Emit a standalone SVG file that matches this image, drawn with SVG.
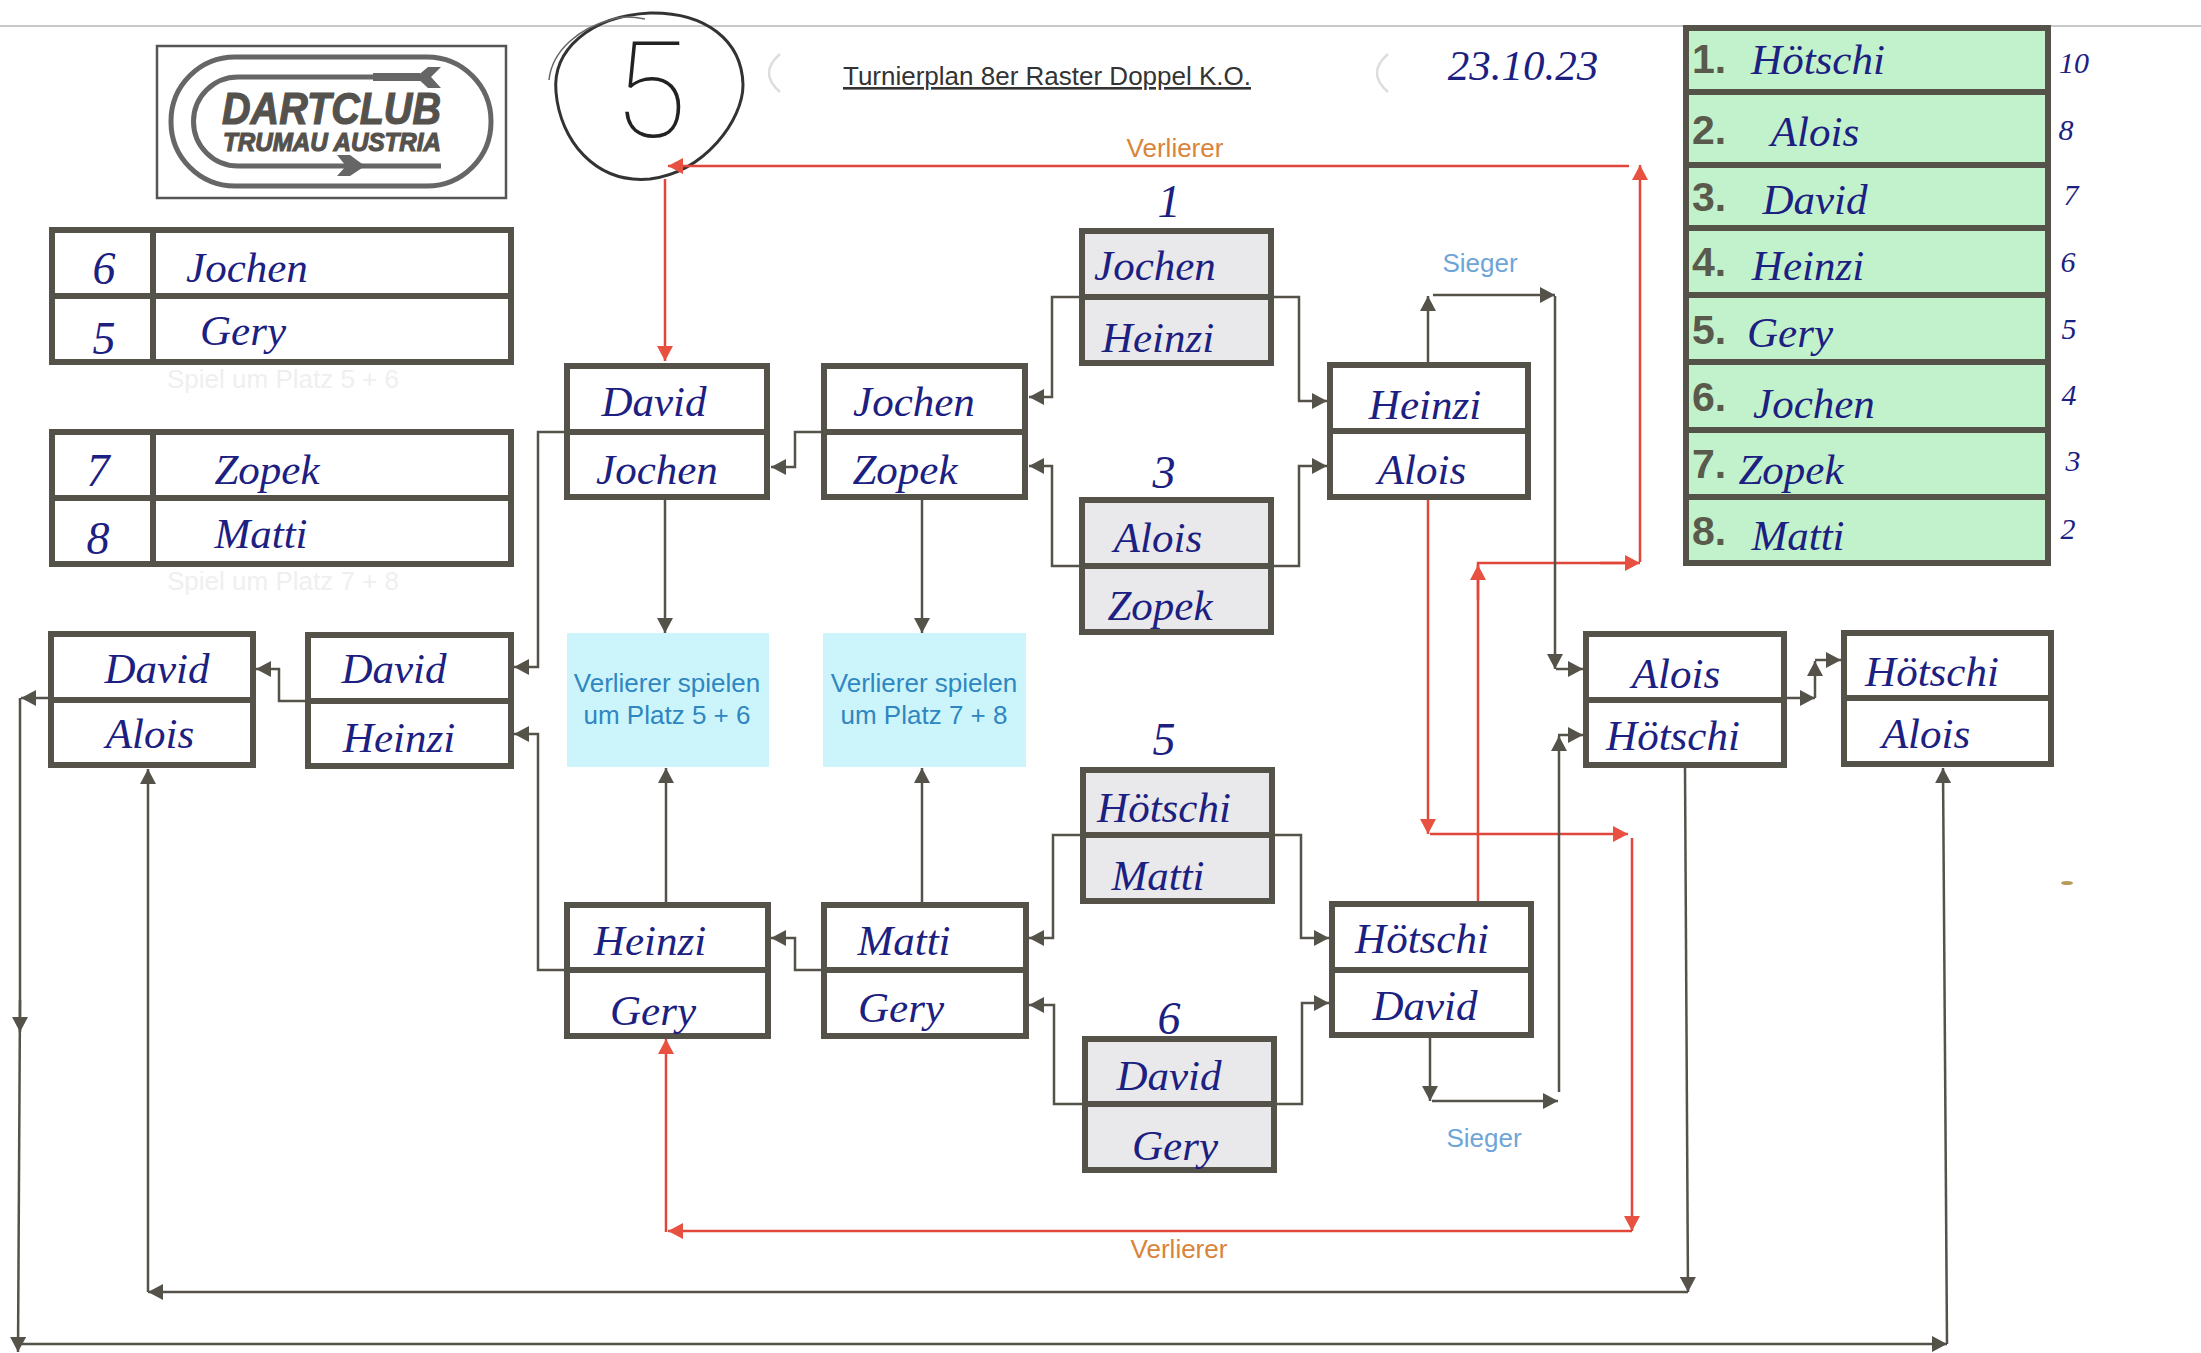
<svg xmlns="http://www.w3.org/2000/svg" width="2201" height="1353" viewBox="0 0 2201 1353">
<style>
.box{fill:#fff;stroke:#55524a;stroke-width:6}
.game{fill:#e9e9eb}
.rank{fill:#c2f2cb}
.div{stroke:#55524a;stroke-width:6;fill:none}
.g{stroke:#55524a;stroke-width:2.5;fill:none}
.r{stroke:#e0473a;stroke-width:2.5;fill:none}
.ag{marker-end:url(#ag)}
.ar{marker-end:url(#ar)}
.h{font-family:"Liberation Serif",serif;font-style:italic;font-size:43px;fill:#1c2080;text-anchor:middle}
.n{font-size:46px}
.p{font-size:30px}
.s{font-family:"Liberation Sans",Arial,sans-serif;font-size:26px;text-anchor:middle}
.blue{fill:#2f86c0}
.sieger{fill:#6ea5d8}
.verl{fill:#d9843a}
.ghost{fill:#efefef;font-size:26px}
.num{font-family:"Liberation Sans",Arial,sans-serif;font-weight:bold;font-size:41px;fill:#5a5a4c}
.logo{font-family:"Liberation Sans",Arial,sans-serif;font-weight:bold;font-style:italic;fill:#55524e;stroke:#55524e;stroke-width:1.2}
.ls{fill:none;stroke:#666;stroke-width:5}
</style>
<defs>
<marker id="ag" markerUnits="userSpaceOnUse" markerWidth="16" markerHeight="16" refX="15" refY="8" orient="auto"><path d="M0 0L15 8L0 16Z" fill="#55524a"/></marker>
<marker id="ar" markerUnits="userSpaceOnUse" markerWidth="16" markerHeight="16" refX="15" refY="8" orient="auto"><path d="M0 0L15 8L0 16Z" fill="#e8503f"/></marker>
</defs>
<rect width="2201" height="1353" fill="#fff"/>
<path d="M0 26H2201" stroke="#c8c8c8" stroke-width="2"/>

<g id="logo">
<rect x="157" y="46" width="349" height="152" fill="none" stroke="#555" stroke-width="2.5"/>
<rect x="171" y="57" width="320" height="129" rx="64" class="ls"/>
<path d="M416 77H238A44 44 0 0 0 238 166H441" class="ls"/>
<path d="M373 77H420" stroke="#666" stroke-width="8" fill="none"/>
<path d="M416 77L428 67H441L431 77L441 88H428Z" fill="#666"/>
<path d="M337 155H350L365 166L350 176H337L346 166Z" fill="#666"/>
<text x="222" y="124" class="logo" font-size="44" textLength="219" lengthAdjust="spacingAndGlyphs">DARTCLUB</text>
<text x="223" y="151" class="logo" font-size="26" textLength="218" lengthAdjust="spacingAndGlyphs">TRUMAU AUSTRIA</text>
</g>

<g id="circle-mark">
<path d="M556 92C552 50 590 16 650 13C705 12 742 40 743 85C743 120 705 172 650 179C595 184 560 140 556 92Z" fill="none" stroke="#333" stroke-width="3"/>
<path d="M549 80C552 50 580 28 610 20C620 16 630 16 645 19" fill="none" stroke="#666" stroke-width="1.5"/>
<text x="650" y="137" font-family="Roboto, sans-serif" font-weight="100" font-size="134" fill="#222" text-anchor="middle">5</text>
</g>

<path d="M780 54Q758 73 780 92" fill="none" stroke="#ddd" stroke-width="2.5"/>
<path d="M1388 54Q1366 73 1388 92" fill="none" stroke="#ddd" stroke-width="2.5"/>
<ellipse cx="2067" cy="883" rx="6" ry="2" fill="#b59a5a"/>

<text id="title" x="1047" y="85" class="s" text-decoration="underline" style="fill:#333">Turnierplan 8er Raster Doppel K.O.</text>
<text id="date" x="1523" y="80" class="h">23.10.23</text>

<g id="connectors">
<path class="r ar" d="M1629 166H668"/>
<path class="r ar" d="M665 179V361"/>
<path class="r" d="M1478 902V563H1625"/>
<path class="r ar" d="M1478 600V565"/>
<path class="r ar" d="M1600 563H1640"/>
<path class="r ar" d="M1640 562V165"/>
<path class="r ar" d="M1428 500V834"/>
<path class="r ar" d="M1430 834H1628"/>
<path class="r ar" d="M1632 838V1231"/>
<path class="r ar" d="M1632 1231H668"/>
<path class="r ar" d="M666 1232V1039"/>

<path class="g ag" d="M1079 297H1052V397H1029"/>
<path class="g ag" d="M1079 566H1052V466H1029"/>
<path class="g ag" d="M1274 297H1299V401H1327"/>
<path class="g ag" d="M1274 566H1299V466H1327"/>
<path class="g ag" d="M1080 835H1053V938H1029"/>
<path class="g ag" d="M1082 1104H1054V1005H1029"/>
<path class="g ag" d="M1275 835H1301V938H1329"/>
<path class="g ag" d="M1277 1104H1302V1003H1329"/>
<path class="g ag" d="M821 432H795V467H771"/>
<path class="g ag" d="M821 970H795V938H771"/>
<path class="g ag" d="M564 432H538V667H514"/>
<path class="g ag" d="M564 970H538V734H514"/>
<path class="g ag" d="M305 701H279V669H256"/>
<path class="g ag" d="M665 500V633"/>
<path class="g ag" d="M922 500V633"/>
<path class="g ag" d="M666 902V768"/>
<path class="g ag" d="M922 902V768"/>
<path class="g ag" d="M1428 362V296"/>
<path class="g ag" d="M1433 295H1555"/>
<path class="g ag" d="M1555 296V669"/>
<path class="g ag" d="M1556 669H1583"/>
<path class="g ag" d="M1559 1092V736"/>
<path class="g ag" d="M1558 735H1583"/>
<path class="g ag" d="M1430 1038V1101"/>
<path class="g ag" d="M1432 1101H1558"/>
<path class="g ag" d="M1787 698H1815"/>
<path class="g ag" d="M1815 698V661"/>
<path class="g ag" d="M1815 660H1841"/>
<path class="g ag" d="M1685 768L1688 1292"/>
<path class="g ag" d="M1688 1292H148"/>
<path class="g ag" d="M148 1292V769"/>
<path class="g ag" d="M48 698H21"/>
<path class="g ag" d="M20 698V1032"/>
<path class="g ag" d="M20 1000L18 1352"/>
<path class="g ag" d="M18 1344H1947"/>
<path class="g ag" d="M1947 1344L1943 768"/>
</g>

<g id="table-5-6">
<rect class="box" x="52" y="230" width="459" height="132"/><path class="div" d="M52 296H511M153 230V362"/>
<text x="104" y="284" class="h n">6</text><text x="247" y="282" class="h">Jochen</text>
<text x="104" y="354" class="h n">5</text><text x="243" y="345" class="h">Gery</text>
<text x="283" y="388" class="s ghost">Spiel um Platz 5 + 6</text>
</g>
<g id="table-7-8">
<rect class="box" x="52" y="432" width="459" height="132"/><path class="div" d="M52 498H511M153 432V564"/>
<text x="98" y="486" class="h n">7</text><text x="267" y="484" class="h">Zopek</text>
<text x="98" y="554" class="h n">8</text><text x="261" y="548" class="h">Matti</text>
<text x="283" y="590" class="s ghost">Spiel um Platz 7 + 8</text>
</g>

<g id="n-david-jochen"><rect class="box" x="567" y="366" width="200" height="131"/><path class="div" d="M567 432H767"/><text x="654" y="416" class="h">David</text><text x="657" y="484" class="h">Jochen</text></g>
<g id="n-jochen-zopek"><rect class="box" x="824" y="366" width="201" height="131"/><path class="div" d="M824 432H1025"/><text x="914" y="416" class="h">Jochen</text><text x="905" y="484" class="h">Zopek</text></g>
<g id="n-game1"><text x="1169" y="217" class="h n">1</text><rect class="box game" x="1082" y="231" width="189" height="132"/><path class="div" d="M1082 297H1271"/><text x="1155" y="280" class="h">Jochen</text><text x="1158" y="352" class="h">Heinzi</text></g>
<g id="n-game3"><text x="1164" y="488" class="h n">3</text><rect class="box game" x="1082" y="500" width="189" height="132"/><path class="div" d="M1082 566H1271"/><text x="1158" y="552" class="h">Alois</text><text x="1160" y="620" class="h">Zopek</text></g>
<g id="n-heinzi-alois"><rect class="box" x="1330" y="365" width="198" height="132"/><path class="div" d="M1330 431H1528"/><text x="1425" y="419" class="h">Heinzi</text><text x="1422" y="484" class="h">Alois</text></g>

<g id="n-platz56"><rect x="567" y="633" width="202" height="134" fill="#ccf5fb"/><text x="667" y="692" class="s blue">Verlierer spielen</text><text x="667" y="724" class="s blue">um Platz 5 + 6</text></g>
<g id="n-platz78"><rect x="823" y="633" width="203" height="134" fill="#ccf5fb"/><text x="924" y="692" class="s blue">Verlierer spielen</text><text x="924" y="724" class="s blue">um Platz 7 + 8</text></g>

<g id="n-heinzi-gery"><rect class="box" x="567" y="905" width="201" height="131"/><path class="div" d="M567 970H768"/><text x="650" y="955" class="h">Heinzi</text><text x="653" y="1025" class="h">Gery</text></g>
<g id="n-matti-gery"><rect class="box" x="824" y="905" width="202" height="131"/><path class="div" d="M824 970H1026"/><text x="904" y="955" class="h">Matti</text><text x="901" y="1022" class="h">Gery</text></g>
<g id="n-game5"><text x="1164" y="755" class="h n">5</text><rect class="box game" x="1083" y="770" width="189" height="131"/><path class="div" d="M1083 835H1272"/><text x="1164" y="822" class="h">Hötschi</text><text x="1158" y="890" class="h">Matti</text></g>
<g id="n-game6"><text x="1169" y="1034" class="h n">6</text><rect class="box game" x="1085" y="1039" width="189" height="131"/><path class="div" d="M1085 1104H1274"/><text x="1169" y="1090" class="h">David</text><text x="1175" y="1160" class="h">Gery</text></g>
<g id="n-hoetschi-david"><rect class="box" x="1332" y="904" width="199" height="131"/><path class="div" d="M1332 970H1531"/><text x="1422" y="953" class="h">Hötschi</text><text x="1425" y="1020" class="h">David</text></g>

<g id="n-david-alois"><rect class="box" x="51" y="634" width="202" height="131"/><path class="div" d="M51 700H253"/><text x="157" y="683" class="h">David</text><text x="150" y="748" class="h">Alois</text></g>
<g id="n-david-heinzi"><rect class="box" x="308" y="635" width="203" height="131"/><path class="div" d="M308 701H511"/><text x="394" y="683" class="h">David</text><text x="399" y="752" class="h">Heinzi</text></g>
<g id="n-alois-hoetschi"><rect class="box" x="1586" y="634" width="198" height="131"/><path class="div" d="M1586 700H1784"/><text x="1676" y="688" class="h">Alois</text><text x="1673" y="750" class="h">Hötschi</text></g>
<g id="n-hoetschi-alois"><rect class="box" x="1844" y="633" width="207" height="131"/><path class="div" d="M1844 698H2051"/><text x="1932" y="686" class="h">Hötschi</text><text x="1926" y="748" class="h">Alois</text></g>

<g id="ranking">
<rect class="box rank" x="1686" y="28" width="362" height="535"/>
<path class="div" d="M1686 92H2048M1686 165H2048M1686 228H2048M1686 295H2048M1686 362H2048M1686 430H2048M1686 497H2048"/>
<text x="1692" y="73" class="num">1.</text><text x="1818" y="74" class="h">Hötschi</text><text x="2074" y="73" class="h p">10</text>
<text x="1692" y="144" class="num">2.</text><text x="1815" y="146" class="h">Alois</text><text x="2066" y="140" class="h p">8</text>
<text x="1692" y="211" class="num">3.</text><text x="1815" y="214" class="h">David</text><text x="2071" y="205" class="h p">7</text>
<text x="1692" y="276" class="num">4.</text><text x="1808" y="280" class="h">Heinzi</text><text x="2068" y="272" class="h p">6</text>
<text x="1692" y="344" class="num">5.</text><text x="1790" y="347" class="h">Gery</text><text x="2069" y="339" class="h p">5</text>
<text x="1692" y="411" class="num">6.</text><text x="1814" y="418" class="h">Jochen</text><text x="2069" y="405" class="h p">4</text>
<text x="1692" y="478" class="num">7.</text><text x="1791" y="484" class="h">Zopek</text><text x="2073" y="471" class="h p">3</text>
<text x="1692" y="545" class="num">8.</text><text x="1798" y="550" class="h">Matti</text><text x="2068" y="539" class="h p">2</text>
</g>

<g id="labels">
<text x="1175" y="157" class="s verl">Verlierer</text>
<text x="1179" y="1258" class="s verl">Verlierer</text>
<text x="1480" y="272" class="s sieger">Sieger</text>
<text x="1484" y="1147" class="s sieger">Sieger</text>
</g>
</svg>
